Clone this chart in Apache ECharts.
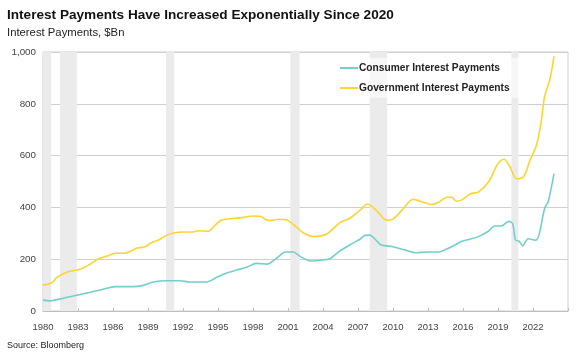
<!DOCTYPE html>
<html>
<head>
<meta charset="utf-8">
<script src="https://cdn.jsdelivr.net/npm/echarts@6/dist/echarts.min.js"></script>
<style>
html,body{margin:0;padding:0;background:#fff;}
#c{width:576px;height:360px;}
</style>
</head>
<body>
<div id="c"></div>
<script>
const titleText = 'Interest Payments Have Increased Exponentially Since 2020';
const subtitleText = 'Interest Payments, $Bn';
const sourceText = 'Source: Bloomberg';
const seriesNames = ['Consumer Interest Payments', 'Government Interest Payments'];

const consumerPoints = [
  [1980.0,42],[1980.6,39],[1981.3,45],[1982.2,54],[1983.0,62],[1983.8,70],[1984.6,78],[1985.5,88],[1986.2,94],
  [1987.0,94],[1987.7,94],[1988.6,99],[1989.45,112],[1990.6,117],[1991.7,117],[1992.6,112],[1993.3,112],[1994.0,112],
  [1994.9,130],[1995.7,146],[1996.6,158],[1997.45,169],[1998.3,184],[1999.2,181],[2000.0,203],[2000.8,228],
  [2001.45,228],[2002.0,212],[2002.5,200],[2003.0,193],[2004.0,197],[2004.6,202],[2005.45,232],[2006.3,255],
  [2007.2,278],[2007.6,292],[2008.0,293],[2008.6,271],[2009.0,255],[2010.0,248],[2011.0,236],[2012.0,225],
  [2012.9,228],[2013.9,228],[2014.6,239],[2015.2,252],[2015.9,269],[2016.6,277],[2017.45,290],[2018.2,309],
  [2018.7,328],[2019.3,328],[2019.9,346],[2020.25,338],[2020.5,274],[2020.8,270],[2021.1,252],[2021.6,279],
  [2022.2,273],[2022.5,292],[2023.0,397],[2023.3,422],[2023.8,530]
];

const governmentPoints = [
  [1980.0,100],[1980.75,109],[1981.2,130],[1982.0,149],[1982.9,158],[1983.3,163],[1984.0,180],[1984.75,202],
  [1985.5,212],[1986.2,223],[1987.0,223],[1987.6,233],[1988.0,242],[1988.75,248],[1989.3,264],[1989.9,274],
  [1990.6,293],[1991.3,302],[1991.9,305],[1992.9,305],[1993.3,310],[1994.2,308],[1994.6,325],[1995.3,351],
  [1996.0,356],[1996.6,358],[1997.2,362],[1998.0,367],[1998.6,366],[1999.2,351],[1999.6,350],[2000.2,354],
  [2000.9,351],[2001.7,325],[2002.3,302],[2003.2,287],[2004.3,297],[2005.45,341],[2006.3,358],[2007.2,390],
  [2007.8,413],[2008.2,403],[2008.75,380],[2009.45,351],[2010.0,355],[2010.9,396],[2011.7,431],[2012.45,422],
  [2013.3,411],[2014.0,422],[2014.6,439],[2015.0,439],[2015.45,424],[2015.9,429],[2016.6,452],[2017.3,459],
  [2018.2,499],[2019.0,570],[2019.5,586],[2020.0,558],[2020.6,510],[2021.2,519],[2021.7,577],[2022.3,641],
  [2022.7,731],[2023.0,830],[2023.45,895],[2023.8,985]
];

const recessions = [
  [1980.0,1980.7],[1981.45,1982.9],[1990.55,1991.25],[2001.2,2002.0],[2008.0,2009.5],[2020.15,2020.75]
];

const xMin = 1980, xMax = 2025, xStep = 3, xLastLabel = 2022;
const yMin = 0, yMax = 1000, yStep = 200;

const sans = "'Liberation Sans',Arial,sans-serif";

const chart = echarts.init(document.getElementById('c'), null, {renderer:'canvas'});
chart.setOption({
  animation: false,
  backgroundColor: '#fff',
  title: [
    {text: titleText, left: 7, top: 8, padding: 0, textStyle:{fontFamily: sans, fontWeight:'bold', fontSize:13.6, color:'#111'}},
    {text: subtitleText, left: 7, top: 27, padding: 0, textStyle:{fontFamily: sans, fontWeight:'normal', fontSize:11.3, color:'#222'}},
    {text: sourceText, left: 7, top: 341, padding: 0, textStyle:{fontFamily: sans, fontWeight:'normal', fontSize:9, color:'#222'}}
  ],
  legend: {
    data: seriesNames,
    orient: 'vertical',
    left: 332, top: 58,
    itemWidth: 18, itemHeight: 2, itemGap: 10,
    icon: 'rect',
    padding: [5, 20, 5, 8],
    backgroundColor: 'rgba(255,255,255,0.6)',
    textStyle: {fontFamily: sans, fontWeight:'bold', fontSize: 10.2, color:'#222', padding:[0,0,0,-4]}
  },
  grid: {left: 43, right: 8, top: 52, bottom: 49, show: true, borderColor:'#cfcfcf', borderWidth:1, containLabel:false},
  xAxis: {
    type: 'value', min: xMin, max: xMax, interval: xStep,
    axisLine: {show: true, lineStyle:{color:'#bfbfbf'}},
    axisTick: {show: true, inside: true, length: 3, lineStyle:{color:'#bfbfbf'}},
    splitLine: {show:false},
    axisLabel: {fontFamily: sans, fontSize: 9.5, color:'#444', margin: 11,
      formatter: v => v > xLastLabel ? '' : String(v)}
  },
  yAxis: {
    type: 'value', min: yMin, max: yMax, interval: yStep,
    axisLine: {show:false}, axisTick:{show:false},
    splitLine: {show:true, lineStyle:{color:'#cfcfcf', width:1}},
    axisLabel: {fontFamily: sans, fontSize: 9.8, color:'#444', margin: 7,
      formatter: v => v.toLocaleString('en-US')}
  },
  series: [
    {
      name: 'recessions', type: 'line', data: [], silent: true,
      markArea: {silent:true, itemStyle:{color:'#ebebeb'},
        data: recessions.map(r => [{xAxis:r[0]},{xAxis:r[1]}])}
    },
    {
      name: seriesNames[0], type: 'line', data: consumerPoints, showSymbol:false, smooth: 0.3,
      lineStyle:{color:'#72CFC9', width:1.6}, itemStyle:{color:'#72CFC9'}, z: 3
    },
    {
      name: seriesNames[1], type: 'line', data: governmentPoints, showSymbol:false, smooth: 0.3,
      lineStyle:{color:'#FFD42F', width:1.6}, itemStyle:{color:'#FFD42F'}, z: 3
    }
  ]
});
</script>
</body>
</html>
